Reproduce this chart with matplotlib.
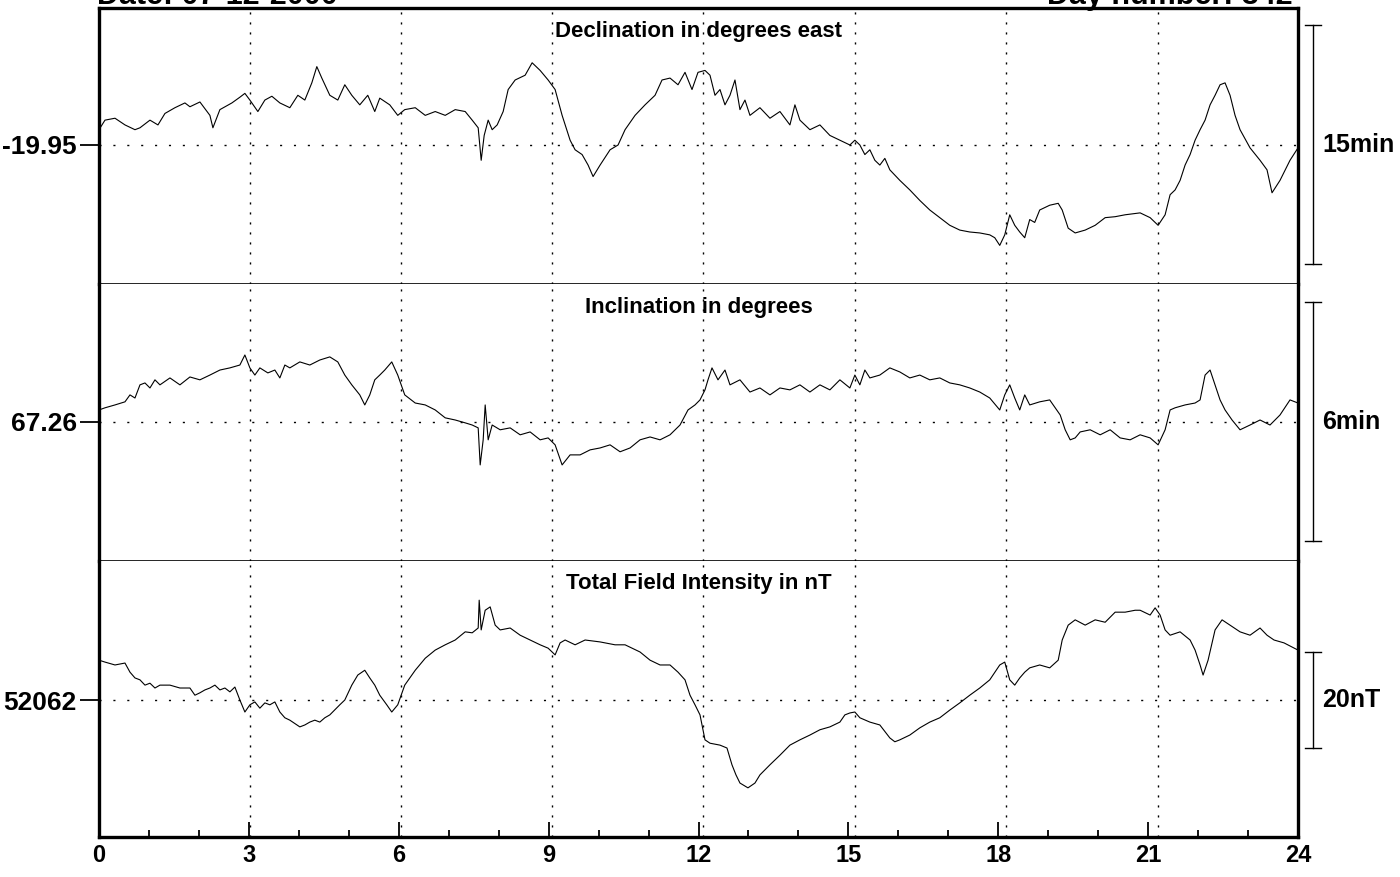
import matplotlib
matplotlib.use('Agg')
import matplotlib.pyplot as plt
from matplotlib.transforms import blended_transform_factory
from matplotlib.ticker import MultipleLocator

plt.rcParams['font.family'] = ['Liberation Sans', 'DejaVu Sans']

# ---------------- data ----------------
decl_hours = [0.00, 0.12, 0.32, 0.52, 0.72, 0.82, 1.02, 1.18, 1.32, 1.52,
              1.72, 1.82, 2.02, 2.22, 2.28, 2.42, 2.66, 2.82, 2.92, 3.02,
              3.18, 3.32, 3.46, 3.62, 3.82, 3.98, 4.12, 4.26, 4.36, 4.46,
              4.62, 4.78, 4.92, 5.06, 5.22, 5.38, 5.52, 5.62, 5.82, 5.98,
              6.12, 6.33, 6.53, 6.73, 6.93, 7.13, 7.33, 7.47, 7.59, 7.65,
              7.71, 7.79, 7.87, 7.97, 8.09, 8.19, 8.33, 8.53, 8.67, 8.83,
              8.99, 9.13, 9.27, 9.43, 9.53, 9.67, 9.79, 9.89, 10.03, 10.23,
              10.39, 10.53, 10.73, 10.93, 11.13, 11.27, 11.43, 11.59, 11.73, 11.87,
              11.99, 12.13, 12.23, 12.33, 12.43, 12.53, 12.63, 12.73, 12.83, 12.93,
              13.03, 13.23, 13.43, 13.63, 13.83, 13.93, 14.03, 14.23, 14.43, 14.63,
              14.83, 15.03, 15.13, 15.23, 15.33, 15.43, 15.53, 15.63, 15.73, 15.83,
              16.03, 16.23, 16.43, 16.63, 16.83, 17.03, 17.23, 17.43, 17.63, 17.83,
              17.93, 18.03, 18.13, 18.23, 18.33, 18.43, 18.53, 18.63, 18.73, 18.83,
              19.03, 19.20, 19.28, 19.40, 19.54, 19.74, 19.94, 20.14, 20.34, 20.54,
              20.84, 21.04, 21.20, 21.34, 21.44, 21.54, 21.64, 21.74, 21.84, 21.94,
              22.04, 22.14, 22.24, 22.34, 22.44, 22.54, 22.64, 22.74, 22.84, 23.04,
              23.24, 23.38, 23.48, 23.64, 23.84, 24.00]
decl_values = [-19.934, -19.924, -19.922, -19.929, -19.934, -19.932, -19.924, -19.929, -19.917, -19.911,
               -19.906, -19.910, -19.905, -19.919, -19.932, -19.913, -19.906, -19.900, -19.896, -19.903,
               -19.915, -19.903, -19.899, -19.906, -19.911, -19.898, -19.903, -19.885, -19.868, -19.880,
               -19.898, -19.903, -19.887, -19.898, -19.908, -19.898, -19.915, -19.901, -19.908, -19.919,
               -19.913, -19.911, -19.919, -19.915, -19.919, -19.913, -19.915, -19.924, -19.932, -19.966,
               -19.940, -19.924, -19.934, -19.929, -19.915, -19.892, -19.882, -19.877, -19.864, -19.872,
               -19.882, -19.892, -19.919, -19.945, -19.955, -19.960, -19.971, -19.983, -19.971, -19.955,
               -19.950, -19.934, -19.919, -19.908, -19.898, -19.882, -19.880, -19.887, -19.874, -19.892,
               -19.874, -19.872, -19.877, -19.898, -19.892, -19.908, -19.898, -19.882, -19.913, -19.903,
               -19.919, -19.911, -19.922, -19.915, -19.929, -19.908, -19.924, -19.934, -19.929, -19.940,
               -19.945, -19.950, -19.945, -19.950, -19.960, -19.955, -19.966, -19.971, -19.964, -19.976,
               -19.987, -19.997, -20.008, -20.018, -20.026, -20.034, -20.039, -20.041, -20.042, -20.044,
               -20.047, -20.055, -20.044, -20.023, -20.034, -20.041, -20.047, -20.028, -20.031, -20.018,
               -20.013, -20.011, -20.018, -20.037, -20.042, -20.039, -20.034, -20.026, -20.025, -20.023,
               -20.021, -20.026, -20.034, -20.023, -20.002, -19.997, -19.987, -19.971, -19.960, -19.945,
               -19.934, -19.924, -19.908, -19.898, -19.887, -19.885, -19.898, -19.919, -19.934, -19.953,
               -19.966, -19.976, -20.000, -19.987, -19.966, -19.953]

incl_hours = [0.00, 0.12, 0.32, 0.52, 0.62, 0.72, 0.82, 0.92, 1.02, 1.12,
              1.22, 1.42, 1.62, 1.82, 2.02, 2.22, 2.42, 2.62, 2.82, 2.92,
              3.02, 3.12, 3.22, 3.38, 3.52, 3.62, 3.72, 3.82, 4.02, 4.22,
              4.42, 4.62, 4.78, 4.92, 5.06, 5.22, 5.32, 5.42, 5.52, 5.62,
              5.72, 5.86, 5.98, 6.12, 6.33, 6.53, 6.73, 6.93, 7.13, 7.33,
              7.47, 7.59, 7.63, 7.69, 7.73, 7.79, 7.87, 8.03, 8.23, 8.43,
              8.63, 8.83, 8.99, 9.13, 9.27, 9.43, 9.63, 9.83, 10.03, 10.23,
              10.43, 10.63, 10.83, 11.03, 11.23, 11.43, 11.63, 11.79, 11.93, 12.03,
              12.13, 12.19, 12.27, 12.39, 12.53, 12.63, 12.83, 13.03, 13.23, 13.43,
              13.63, 13.83, 14.03, 14.23, 14.43, 14.63, 14.83, 15.03, 15.13, 15.23,
              15.33, 15.43, 15.63, 15.83, 16.03, 16.23, 16.43, 16.63, 16.83, 17.03,
              17.23, 17.43, 17.63, 17.83, 18.03, 18.13, 18.23, 18.33, 18.43, 18.53,
              18.63, 18.83, 19.03, 19.14, 19.24, 19.34, 19.44, 19.54, 19.64, 19.84,
              20.04, 20.24, 20.44, 20.64, 20.84, 21.04, 21.20, 21.34, 21.44, 21.54,
              21.74, 21.94, 22.04, 22.14, 22.24, 22.34, 22.44, 22.54, 22.68, 22.84,
              23.04, 23.24, 23.44, 23.64, 23.84, 24.00]
incl_values = [67.2650, 67.2659, 67.2671, 67.2684, 67.2713, 67.2700, 67.2755, 67.2763, 67.2742, 67.2776,
               67.2755, 67.2784, 67.2755, 67.2788, 67.2776, 67.2796, 67.2817, 67.2826, 67.2838, 67.2880,
               67.2826, 67.2796, 67.2826, 67.2805, 67.2817, 67.2784, 67.2838, 67.2826, 67.2851, 67.2838,
               67.2859, 67.2872, 67.2851, 67.2796, 67.2755, 67.2713, 67.2671, 67.2713, 67.2776, 67.2796,
               67.2817, 67.2851, 67.2796, 67.2713, 67.2679, 67.2671, 67.2650, 67.2617, 67.2608, 67.2596,
               67.2587, 67.2575, 67.2420, 67.2525, 67.2671, 67.2525, 67.2587, 67.2567, 67.2575, 67.2546,
               67.2558, 67.2525, 67.2533, 67.2504, 67.2420, 67.2462, 67.2462, 67.2483, 67.2491, 67.2504,
               67.2475, 67.2491, 67.2525, 67.2537, 67.2525, 67.2546, 67.2587, 67.2650, 67.2671, 67.2692,
               67.2734, 67.2776, 67.2826, 67.2776, 67.2817, 67.2755, 67.2776, 67.2725, 67.2742, 67.2713,
               67.2742, 67.2734, 67.2755, 67.2725, 67.2755, 67.2734, 67.2776, 67.2742, 67.2796, 67.2755,
               67.2817, 67.2784, 67.2796, 67.2826, 67.2809, 67.2784, 67.2796, 67.2776, 67.2784, 67.2763,
               67.2755, 67.2742, 67.2725, 67.2700, 67.2650, 67.2713, 67.2755, 67.2700, 67.2650, 67.2713,
               67.2671, 67.2684, 67.2692, 67.2659, 67.2629, 67.2567, 67.2525, 67.2533, 67.2558, 67.2567,
               67.2546, 67.2567, 67.2533, 67.2525, 67.2546, 67.2533, 67.2504, 67.2567, 67.2650, 67.2659,
               67.2671, 67.2679, 67.2692, 67.2796, 67.2817, 67.2755, 67.2692, 67.2650, 67.2608, 67.2567,
               67.2587, 67.2608, 67.2587, 67.2629, 67.2692, 67.2679]

field_hours = [0.00, 0.12, 0.32, 0.52, 0.62, 0.72, 0.82, 0.92, 1.02, 1.12,
               1.22, 1.42, 1.62, 1.82, 1.92, 2.02, 2.12, 2.22, 2.32, 2.42,
               2.52, 2.62, 2.72, 2.82, 2.92, 3.02, 3.12, 3.22, 3.32, 3.42,
               3.52, 3.62, 3.72, 3.82, 4.02, 4.12, 4.22, 4.32, 4.42, 4.52,
               4.62, 4.82, 4.92, 5.06, 5.18, 5.32, 5.42, 5.52, 5.62, 5.76,
               5.86, 5.98, 6.12, 6.33, 6.53, 6.73, 6.93, 7.13, 7.33, 7.47,
               7.59, 7.61, 7.65, 7.73, 7.83, 7.93, 8.03, 8.23, 8.43, 8.63,
               8.83, 8.99, 9.13, 9.23, 9.33, 9.53, 9.73, 10.03, 10.33, 10.53,
               10.83, 11.03, 11.23, 11.43, 11.59, 11.73, 11.83, 11.93, 12.03, 12.13,
               12.23, 12.43, 12.57, 12.67, 12.75, 12.83, 12.99, 13.13, 13.23, 13.43,
               13.63, 13.83, 14.03, 14.23, 14.43, 14.63, 14.83, 14.93, 15.03, 15.13,
               15.23, 15.43, 15.63, 15.83, 15.93, 16.03, 16.23, 16.43, 16.63, 16.83,
               17.03, 17.23, 17.43, 17.63, 17.83, 18.03, 18.13, 18.23, 18.33, 18.43,
               18.53, 18.63, 18.83, 19.03, 19.20, 19.28, 19.40, 19.54, 19.74, 19.94,
               20.14, 20.34, 20.54, 20.74, 20.84, 21.04, 21.14, 21.24, 21.34, 21.44,
               21.64, 21.84, 21.94, 22.04, 22.10, 22.20, 22.34, 22.48, 22.64, 22.84,
               23.04, 23.24, 23.38, 23.52, 23.72, 24.00]
field_values = [52070.3, 52069.9, 52069.3, 52069.7, 52067.8, 52066.6, 52066.2, 52065.1, 52065.5, 52064.5,
                52065.1, 52065.1, 52064.5, 52064.5, 52063.0, 52063.5, 52064.1, 52064.5, 52065.1, 52064.1,
                52064.5, 52063.7, 52064.7, 52062.0, 52059.5, 52061.0, 52061.6, 52060.3, 52061.4, 52061.0,
                52061.6, 52059.5, 52058.3, 52057.8, 52056.4, 52056.8, 52057.4, 52057.8, 52057.4, 52058.3,
                52058.9, 52061.0, 52062.0, 52065.1, 52067.2, 52068.2, 52066.6, 52065.1, 52063.0, 52061.0,
                52059.5, 52061.0, 52065.1, 52068.2, 52070.7, 52072.4, 52073.5, 52074.5, 52076.2, 52076.0,
                52077.0, 52082.8, 52076.6, 52080.7, 52081.4, 52077.6, 52076.6, 52077.0, 52075.5, 52074.5,
                52073.5, 52072.8, 52071.4, 52073.9, 52074.5, 52073.5, 52074.5, 52074.1, 52073.5, 52073.5,
                52072.0, 52070.3, 52069.3, 52069.3, 52067.8, 52066.2, 52063.0, 52061.0, 52058.9, 52053.7,
                52053.0, 52052.6, 52052.0, 52048.5, 52046.4, 52044.7, 52043.7, 52044.7, 52046.4, 52048.5,
                52050.5, 52052.6, 52053.7, 52054.7, 52055.8, 52056.4, 52057.4, 52058.9, 52059.3, 52059.5,
                52058.3, 52057.4, 52056.8, 52054.1, 52053.3, 52053.7, 52054.7, 52056.2, 52057.4, 52058.3,
                52059.9, 52061.4, 52063.0, 52064.5, 52066.2, 52069.3, 52069.9, 52066.2, 52065.1, 52066.6,
                52067.8, 52068.7, 52069.3, 52068.7, 52070.3, 52074.5, 52077.6, 52078.7, 52077.6, 52078.7,
                52078.2, 52080.3, 52080.3, 52080.7, 52080.7, 52079.7, 52081.2, 52079.7, 52076.6, 52075.5,
                52076.2, 52074.5, 52072.4, 52069.3, 52067.2, 52070.3, 52076.6, 52078.7, 52077.6, 52076.2,
                52075.5, 52077.0, 52075.5, 52074.5, 52073.9, 52072.4]

panel_titles = ['Declination in degrees east', 'Inclination in degrees',
                'Total Field Intensity in nT']
base_values = [-19.95, 67.26, 52062]
base_labels = ['-19.95', '67.26', '52062']
scale_labels = ['15min', '6min', '20nT']
scale_sizes = [0.25, 0.1, 20]          # full length of the scale bar in data units
y_limits = [(-20.0954, -19.8067), (67.2018, 67.3177), (52033.46, 52090.96)]
hour_ticks = [0, 3, 6, 9, 12, 15, 18, 21, 24]
grid_hours = [3.02, 6.04, 9.06, 12.09, 15.13, 18.15, 21.19]
date_text = 'Date: 07-12-2000'
day_text = 'Day number: 342'

series = [(decl_hours, decl_values), (incl_hours, incl_values), (field_hours, field_values)]

# ---------------- layout ----------------
W, H = 1400, 877
fig = plt.figure(figsize=(14, 8.77), dpi=100)
fig.patch.set_facecolor('white')

left, right = 99 / W, 1298 / W
tops = [8, 284, 561]
bots = [284, 561, 837]

for i in range(3):
    t, b = tops[i], bots[i]
    ax = fig.add_axes([left, 1 - b / H, right - left, (b - t) / H])
    hrs, vals = series[i]
    ax.plot(hrs, vals, color='black', lw=0.8)
    ax.set_xlim(0, 24)
    ax.set_ylim(*y_limits[i])

    ax.axhline(base_values[i], color='black', lw=1.0, ls=(0, (1.5, 8.5)))
    for g in grid_hours:
        ax.axvline(g, color='black', lw=1.0, ls=(0, (1.5, 5.7)))

    ax.set_yticks([base_values[i]])
    ax.set_yticklabels([base_labels[i]], fontsize=19, fontweight='bold')
    ax.tick_params(axis='y', direction='out', length=14, width=1.3, pad=2)

    for s in ['left', 'right']:
        ax.spines[s].set_linewidth(2.4)
    if i == 0:
        ax.spines['top'].set_linewidth(2.4)
    else:
        ax.spines['top'].set_visible(False)
    if i == 2:
        ax.spines['bottom'].set_linewidth(2.4)
        ax.xaxis.set_major_locator(MultipleLocator(3))
        ax.xaxis.set_minor_locator(MultipleLocator(1))
        ax.set_xticks(hour_ticks)
        ax.set_xticklabels([str(h) for h in hour_ticks], fontsize=17, fontweight='bold')
        ax.tick_params(axis='x', which='major', direction='in', length=11, width=1.3, pad=5)
        ax.tick_params(axis='x', which='minor', direction='in', length=5, width=1.3)
    else:
        ax.spines['bottom'].set_linewidth(1.2)
        ax.set_xticks([])

    ax.text(0.5, 1 - 23 / (b - t), panel_titles[i], transform=ax.transAxes,
            ha='center', va='center', fontsize=16, fontweight='bold')

    # scale bar on the right
    tr = blended_transform_factory(fig.transFigure, ax.transData)
    half = scale_sizes[i] / 2
    xb, xc0, xc1 = 1313 / W, 1305 / W, 1321 / W
    y0, y1 = base_values[i] - half, base_values[i] + half
    ax.plot([xb, xb], [y0, y1], color='black', lw=1.0, transform=tr, clip_on=False)
    ax.plot([xc0, xc1], [y0, y0], color='black', lw=1.0, transform=tr, clip_on=False)
    ax.plot([xc0, xc1], [y1, y1], color='black', lw=1.0, transform=tr, clip_on=False)
    ax.text(1322 / W, base_values[i], scale_labels[i], transform=tr, ha='left',
            va='center', fontsize=18, fontweight='bold')

# header lines sit partly above the top edge, as in the reference
fig.text(97 / W, 1 - 4 / H, date_text, ha='left', va='baseline',
         fontsize=22, fontweight='bold')
fig.text(1293 / W, 1 - 4 / H, day_text, ha='right', va='baseline',
         fontsize=22, fontweight='bold')

fig.savefig('out.png', dpi=100)
